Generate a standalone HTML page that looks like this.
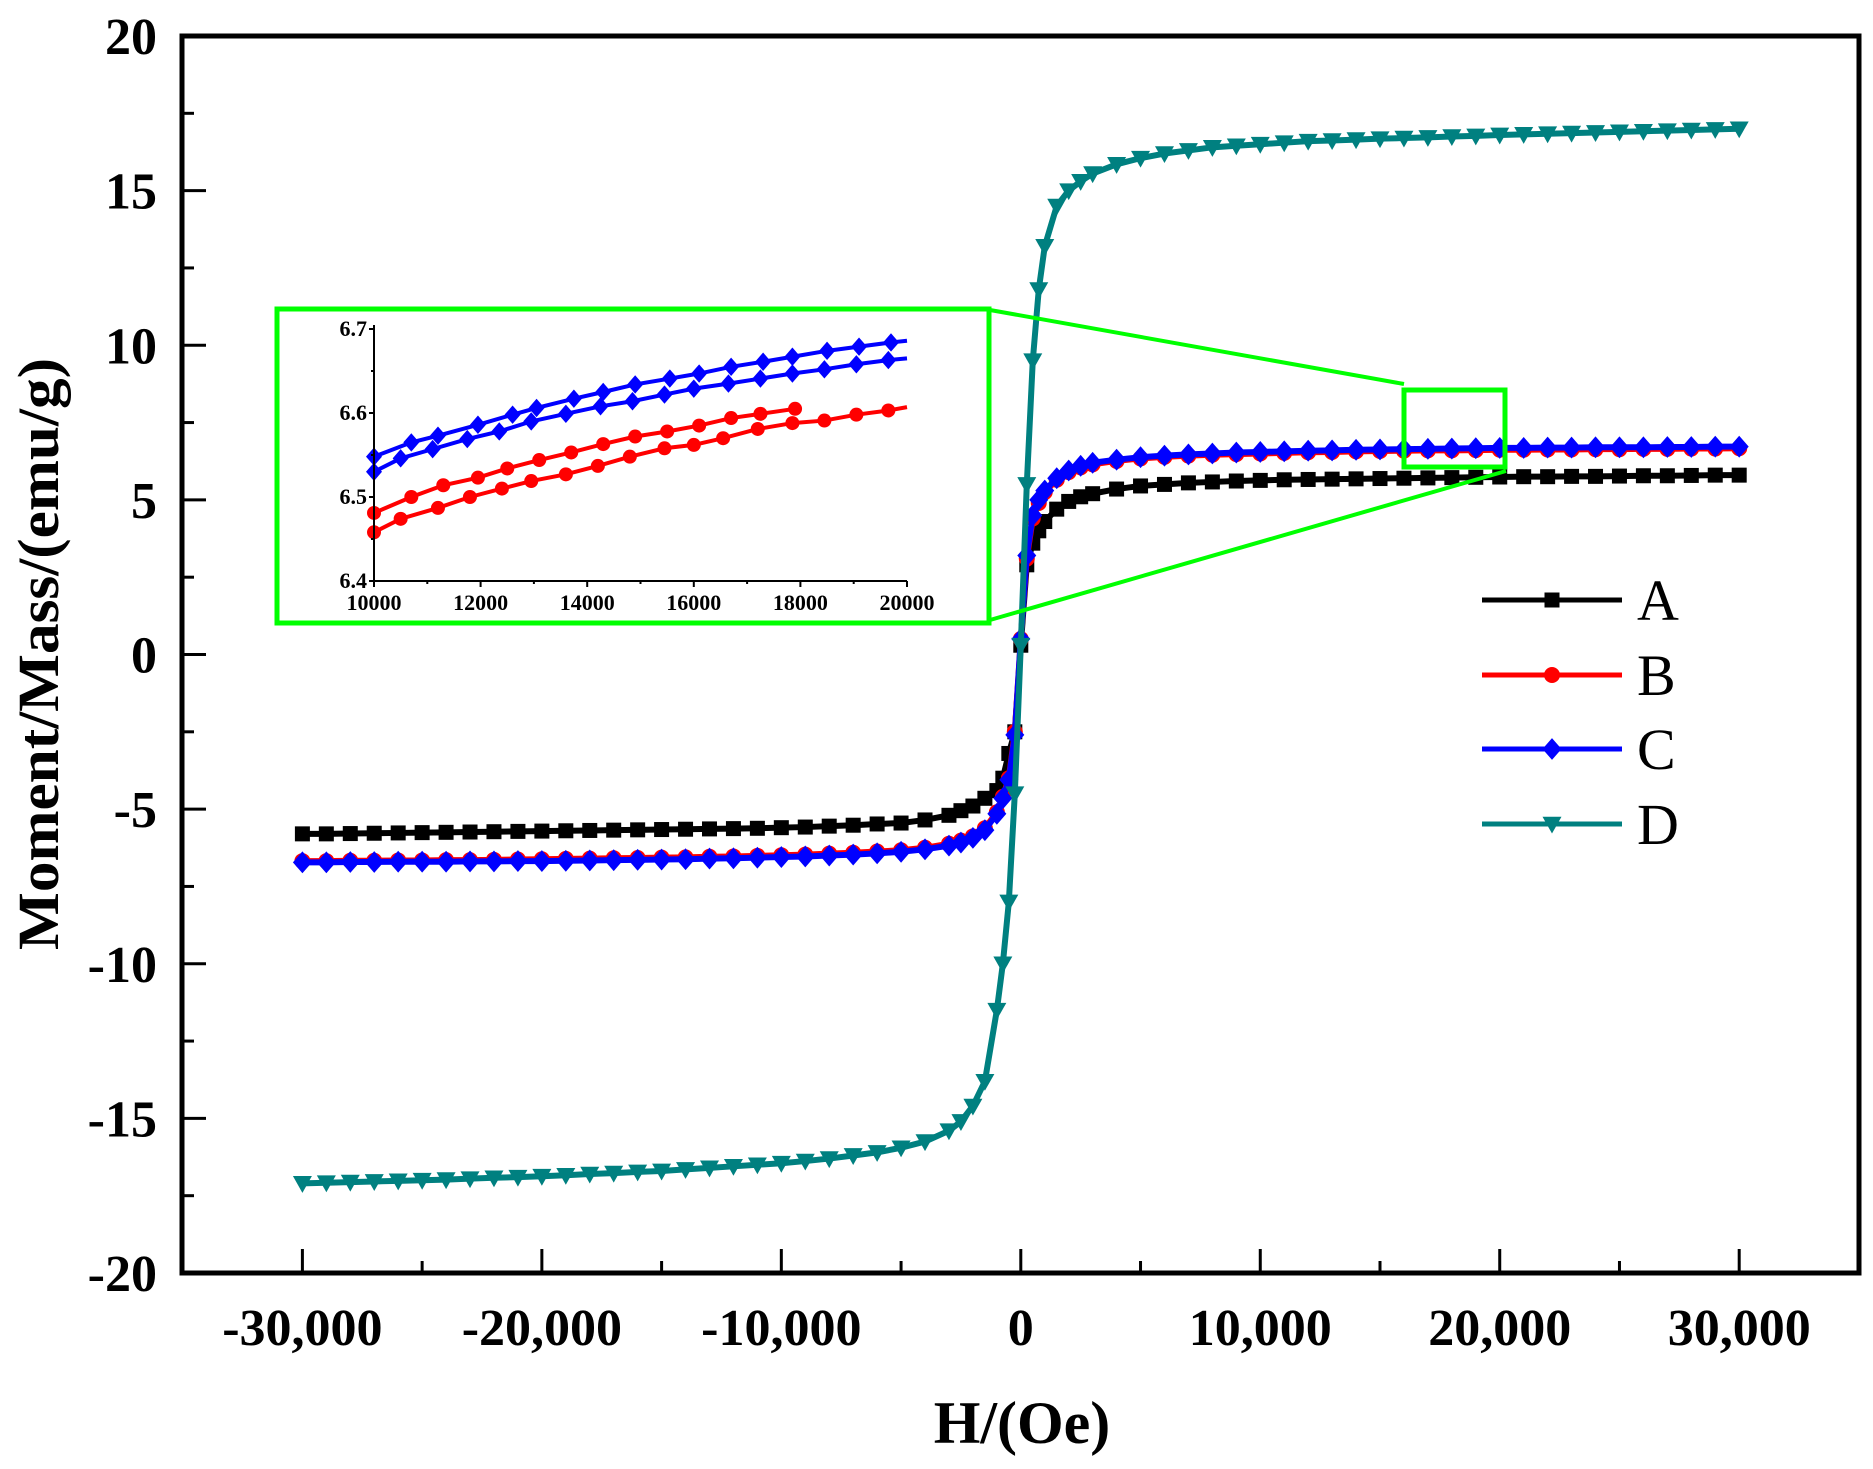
<!DOCTYPE html>
<html><head><meta charset="utf-8"><style>
html,body{margin:0;padding:0;background:#fff}
svg{display:block;font-family:"Liberation Serif",serif}
</style></head><body>
<svg id="chart" width="1873" height="1469" viewBox="0 0 1873 1469" xmlns="http://www.w3.org/2000/svg">
<rect x="0" y="0" width="1873" height="1469" fill="#fff"/>
<g id="main"></g>
<g id="inset"></g>
<g id="legend"></g>
</svg>
<script>
const H = [-30000,-29000,-28000,-27000,-26000,-25000,-24000,-23000,-22000,-21000,-20000,-19000,-18000,-17000,-16000,-15000,-14000,-13000,-12000,-11000,-10000,-9000,-8000,-7000,-6000,-5000,-4000,-3000,-2500,-2000,-1500,-1000,-750,-500,-250,0,250,500,750,1000,1500,2000,2500,3000,4000,5000,6000,7000,8000,9000,10000,11000,12000,13000,14000,15000,16000,17000,18000,19000,20000,21000,22000,23000,24000,25000,26000,27000,28000,29000,30000];
const seriesA = [-5.8,-5.8,-5.79,-5.78,-5.77,-5.76,-5.75,-5.74,-5.73,-5.72,-5.71,-5.7,-5.69,-5.68,-5.67,-5.66,-5.65,-5.64,-5.63,-5.62,-5.6,-5.58,-5.55,-5.52,-5.48,-5.45,-5.35,-5.2,-5.05,-4.9,-4.65,-4.4,-4.0,-3.2,-2.5,0.3,2.9,3.6,4.0,4.3,4.7,4.95,5.1,5.2,5.35,5.45,5.5,5.55,5.58,5.61,5.63,5.65,5.66,5.67,5.68,5.69,5.7,5.71,5.72,5.73,5.74,5.75,5.75,5.76,5.76,5.77,5.78,5.78,5.79,5.8,5.8];
const seriesB = [-6.68,-6.68,-6.67,-6.67,-6.66,-6.66,-6.65,-6.65,-6.64,-6.63,-6.62,-6.61,-6.6,-6.59,-6.58,-6.57,-6.56,-6.54,-6.53,-6.51,-6.49,-6.47,-6.44,-6.41,-6.37,-6.33,-6.25,-6.12,-6.02,-5.88,-5.62,-5.1,-4.6,-4.0,-2.5,0.5,3.1,4.4,4.9,5.25,5.65,5.9,6.05,6.15,6.26,6.34,6.39,6.43,6.46,6.48,6.5,6.52,6.54,6.55,6.57,6.58,6.59,6.6,6.6,6.61,6.62,6.62,6.63,6.63,6.64,6.64,6.65,6.65,6.66,6.66,6.67];
const seriesC = [-6.72,-6.72,-6.71,-6.71,-6.7,-6.7,-6.7,-6.69,-6.69,-6.68,-6.68,-6.67,-6.66,-6.65,-6.64,-6.63,-6.62,-6.6,-6.59,-6.57,-6.55,-6.53,-6.5,-6.47,-6.43,-6.38,-6.3,-6.18,-6.08,-5.93,-5.68,-5.15,-4.65,-4.05,-2.6,0.5,3.2,4.5,5.0,5.3,5.7,5.95,6.1,6.2,6.3,6.38,6.43,6.47,6.5,6.53,6.55,6.57,6.59,6.6,6.62,6.63,6.64,6.65,6.66,6.67,6.68,6.68,6.69,6.69,6.7,6.7,6.7,6.71,6.71,6.72,6.72];
const seriesD = [-17.1,-17.08,-17.06,-17.04,-17.02,-17.0,-16.98,-16.95,-16.92,-16.9,-16.87,-16.84,-16.8,-16.77,-16.73,-16.7,-16.65,-16.6,-16.55,-16.5,-16.45,-16.38,-16.3,-16.2,-16.1,-15.95,-15.75,-15.4,-15.1,-14.6,-13.8,-11.5,-10.0,-8.0,-4.5,0.3,5.5,9.5,11.8,13.2,14.5,15.0,15.3,15.55,15.85,16.05,16.2,16.3,16.4,16.45,16.5,16.55,16.6,16.62,16.65,16.68,16.7,16.72,16.75,16.77,16.8,16.82,16.84,16.86,16.88,16.9,16.92,16.94,16.96,16.98,17.0];
const xTicks = [-30000,-20000,-10000,0,10000,20000,30000];
const xTickLabels = ["-30,000","-20,000","-10,000","0","10,000","20,000","30,000"];
const yTicks = [-20,-15,-10,-5,0,5,10,15,20];
const yTickLabels = ["-20","-15","-10","-5","0","5","10","15","20"];
// inset data
const insetBlueUpX = [10000,10700,11200,11950,12600,13050,13750,14300,14900,15550,16100,16700,17300,17850,18500,19100,19700,20000];
const insetBlueUpY = [6.548,6.565,6.573,6.586,6.598,6.606,6.617,6.625,6.634,6.641,6.647,6.655,6.661,6.667,6.674,6.679,6.684,6.686];
const insetBlueLoX = [10000,10500,11100,11750,12350,12950,13600,14250,14850,15450,16000,16650,17250,17850,18450,19050,19650,20000];
const insetBlueLoY = [6.53,6.546,6.557,6.569,6.578,6.59,6.599,6.608,6.614,6.622,6.629,6.635,6.641,6.647,6.652,6.658,6.663,6.665];
const insetRedUpX = [10000,10700,11300,11950,12500,13100,13700,14300,14900,15500,16100,16700,17250,17900];
const insetRedUpY = [6.481,6.5,6.514,6.523,6.534,6.544,6.553,6.563,6.572,6.578,6.585,6.594,6.599,6.605];
const insetRedLoX = [10000,10500,11200,11800,12400,12950,13600,14200,14800,15450,16000,16550,17200,17850,18450,19050,19650,20000];
const insetRedLoY = [6.458,6.474,6.487,6.5,6.51,6.519,6.527,6.537,6.548,6.558,6.562,6.57,6.581,6.588,6.591,6.598,6.603,6.607];
const insetXTicks = [10000,12000,14000,16000,18000,20000];
const insetYTicks = [6.4,6.5,6.6,6.7];
const insetYTickLabels = ["6.4","6.5","6.6","6.7"];

const NS="http://www.w3.org/2000/svg";
function mk(parent,tag,attrs,text){const e=document.createElementNS(NS,tag);for(const k in attrs)e.setAttribute(k,attrs[k]);if(text!==undefined)e.textContent=text;parent.appendChild(e);return e;}

const L=182,R=1859,T=36,B=1273;
const sx=v=>302.4+(v+30000)*(1739.2-302.4)/60000;
const sy=v=>T+(20-v)*(B-T)/40;
const main=document.getElementById('main');

function marker(g,type,x,y,color,s){
  let e;
  if(type==='square'){e=mk(g,'rect',{x:x-s/2,y:y-s/2,width:s,height:s,fill:color});}
  else if(type==='circle'){e=mk(g,'circle',{cx:x,cy:y,r:s/2,fill:color});}
  else if(type==='diamond'){e=mk(g,'polygon',{points:`${x},${y-s/2*1.15} ${x+s/2},${y} ${x},${y+s/2*1.15} ${x-s/2},${y}`,fill:color});}
  else {e=mk(g,'polygon',{points:`${x-s/2},${y-s/2.6} ${x+s/2},${y-s/2.6} ${x},${y+s/2}`,fill:color});}
  
  
  return e;
}
const series=[{n:'A',d:seriesA,c:'#000000',m:'square',s:15},{n:'B',d:seriesB,c:'#ff0000',m:'circle',s:16},{n:'C',d:seriesC,c:'#0000ff',m:'diamond',s:19},{n:'D',d:seriesD,c:'#008080',m:'tri',s:19}];
series.forEach(se=>{
  const g=mk(main,'g',{});
  
  
  const pts=H.map((h,i)=>sx(h)+','+sy(se.d[i])).join(' ');
  const pl=mk(g,'polyline',{points:pts,fill:'none',stroke:se.c,'stroke-width':6,'stroke-linejoin':'round'});
  
  
  H.forEach((h,i)=>marker(g,se.m,sx(h),sy(se.d[i]),se.c,se.s));
});
const box=mk(main,'rect',{x:L,y:T,width:R-L,height:B-T,fill:'none',stroke:'#000','stroke-width':5});


xTicks.forEach((v,i)=>{
  const x=sx(v);
  mk(main,'line',{x1:x,y1:B,x2:x,y2:B-24,stroke:'#000','stroke-width':3});
  const m=sx(v+5000);
  if(v<30000) mk(main,'line',{x1:m,y1:B,x2:m,y2:B-12,stroke:'#000','stroke-width':3});
  const t=mk(main,'text',{x:x,y:1345,'text-anchor':'middle','font-size':52,'font-weight':'bold'},xTickLabels[i]);
  
  
});
yTicks.forEach((v,i)=>{
  const y=sy(v);
  mk(main,'line',{x1:L,y1:y,x2:L+24,y2:y,stroke:'#000','stroke-width':3});
  if(v<20){const m=sy(v+2.5);mk(main,'line',{x1:L,y1:m,x2:L+12,y2:m,stroke:'#000','stroke-width':3});}
  const t=mk(main,'text',{x:157,y:y+18,'text-anchor':'end','font-size':52,'font-weight':'bold'},yTickLabels[i]);
  
  
});
const xt=mk(main,'text',{x:1022,y:1443,'text-anchor':'middle','font-size':60,'font-weight':'bold'},'H/(Oe)');


const yt=mk(main,'text',{x:0,y:0,'text-anchor':'middle','font-size':58,'font-weight':'bold',transform:'translate(58,654) rotate(-90)',textLength:592,lengthAdjust:'spacingAndGlyphs'},'Moment/Mass/(emu/g)');



const green='#00ff00';
const zr=mk(main,'rect',{x:1404,y:390,width:101,height:77,fill:'none',stroke:green,'stroke-width':5});


const c1=mk(main,'line',{x1:990,y1:310,x2:1404,y2:384,stroke:green,'stroke-width':4});


const c2=mk(main,'line',{x1:990,y1:620,x2:1506,y2:471,stroke:green,'stroke-width':4});



const ins=document.getElementById('inset');
const ib=mk(ins,'rect',{x:277,y:309,width:712,height:314,fill:'#fff',stroke:green,'stroke-width':5});


const iL=374,iR=907,iT=329,iB=581;
const ix=v=>iL+(v-10000)*(iR-iL)/10000;
const iy=v=>iB-(v-6.4)*(iB-iT)/0.3;
[[insetRedUpX,insetRedUpY,'#ff0000','circle',14,'inset-b-upper'],[insetRedLoX,insetRedLoY,'#ff0000','circle',14,'inset-b-lower'],[insetBlueUpX,insetBlueUpY,'#0000ff','diamond',16,'inset-c-upper'],[insetBlueLoX,insetBlueLoY,'#0000ff','diamond',16,'inset-c-lower']].forEach(a=>{
  const g=mk(ins,'g',{});
  
  
  mk(g,'polyline',{points:a[0].map((h,i)=>ix(h)+','+iy(a[1][i])).join(' '),fill:'none',stroke:a[2],'stroke-width':4});
  a[0].forEach((h,i)=>{if(h<20000||a[0].length<15) marker(g,a[3],ix(h),iy(a[1][i]),a[2],a[4]);});
});
mk(ins,'line',{x1:iL,y1:iT-4,x2:iL,y2:iB,stroke:'#000','stroke-width':2});
mk(ins,'line',{x1:iL,y1:iB,x2:iR,y2:iB,stroke:'#000','stroke-width':2});
insetXTicks.forEach(v=>{
  const x=ix(v);
  mk(ins,'line',{x1:x,y1:iB,x2:x,y2:iB+6,stroke:'#000','stroke-width':2});
  if(v<20000){mk(ins,'line',{x1:ix(v+1000),y1:iB,x2:ix(v+1000),y2:iB+3,stroke:'#000','stroke-width':2});}
  const t=mk(ins,'text',{x:x,y:iB+29,'text-anchor':'middle','font-size':22,'font-weight':'bold'},String(v));
  
  
});
insetYTicks.forEach((v,i)=>{
  const y=iy(v);
  mk(ins,'line',{x1:iL-5,y1:y,x2:iL,y2:y,stroke:'#000','stroke-width':2});
  if(v<6.7){mk(ins,'line',{x1:iL-3,y1:iy(v+0.05),x2:iL,y2:iy(v+0.05),stroke:'#000','stroke-width':2});}
  const t=mk(ins,'text',{x:iL-7,y:y+7,'text-anchor':'end','font-size':22,'font-weight':'bold'},insetYTickLabels[i]);
  
  
});

const lg=document.getElementById('legend');
const ly=[600,675,749,824];
series.forEach((se,i)=>{
  const g=mk(lg,'g',{});
  
  
  mk(g,'line',{x1:1482,y1:ly[i],x2:1622,y2:ly[i],stroke:se.c,'stroke-width':5});
  marker(g,se.m,1552,ly[i],se.c,se.s);
  mk(g,'text',{x:1637,y:ly[i]+20,'font-size':58},se.n);
});
</script>
</body></html>
